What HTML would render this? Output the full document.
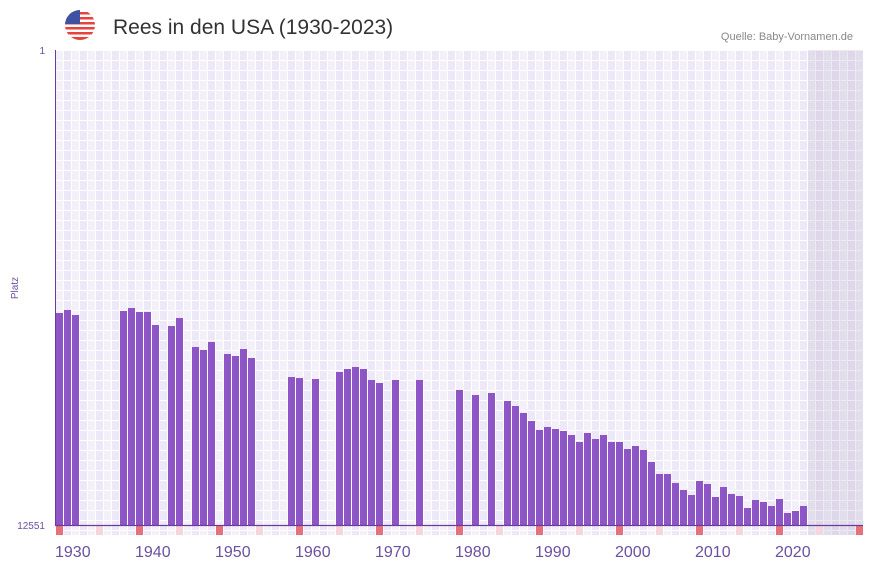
<!DOCTYPE html>
<html><head><meta charset="utf-8"><style>
html,body{margin:0;padding:0;background:#fff;width:873px;height:567px;overflow:hidden}
svg text{font-family:"Liberation Sans",sans-serif}
</style></head><body>
<svg width="873" height="567" viewBox="0 0 873 567" xmlns="http://www.w3.org/2000/svg">
<defs>
<pattern id="g" x="55" y="50" width="16" height="10" patternUnits="userSpaceOnUse">
<rect width="16" height="10" fill="#fff"/>
<rect x="1" y="1" width="7" height="9" fill="#f3f0fa"/>
<rect x="9" y="1" width="7" height="9" fill="#ede8f7"/>
</pattern>
<clipPath id="fc"><circle cx="80" cy="25" r="15"/></clipPath>
</defs>
<g clip-path="url(#fc)">
<rect x="65" y="10" width="30" height="30" fill="#fff"/>
<rect x="65" y="12" width="30" height="2.5" fill="#e8423f"/>
<rect x="65" y="17" width="30" height="2.5" fill="#e8423f"/>
<rect x="65" y="22" width="30" height="2.5" fill="#e8423f"/>
<rect x="65" y="27" width="30" height="2.5" fill="#e8423f"/>
<rect x="65" y="32" width="30" height="2.5" fill="#e8423f"/>
<rect x="65" y="37" width="30" height="3" fill="#e8423f"/>
<rect x="65" y="10" width="15" height="14" fill="#3f51a3"/>
</g>
<text x="113" y="34" font-size="21" fill="#333">Rees in den USA (1930-2023)</text>
<text x="853" y="40" font-size="11" fill="#888" text-anchor="end">Quelle: Baby-Vornamen.de</text>
<rect x="55" y="50" width="808" height="485" fill="url(#g)"/>
<rect x="808" y="50" width="55" height="485" fill="rgba(150,140,170,0.18)"/>
<g fill="#8e55c6" id="bars"></g>
<g id="marks"></g>
<line x1="55.5" y1="50" x2="55.5" y2="525" stroke="#6a3d9a" stroke-width="1"/>
<line x1="55" y1="525.5" x2="863" y2="525.5" stroke="#6a3d9a" stroke-width="1.2"/>
<text x="45" y="54" font-size="10" fill="#6b4fa0" text-anchor="end">1</text>
<text x="45" y="529" font-size="10" fill="#6b4fa0" text-anchor="end">12551</text>
<text x="18" y="288" font-size="10" fill="#6b4fa0" text-anchor="middle" transform="rotate(-90 18 288)">Platz</text>
<g font-size="16" fill="#6b4fa0" id="xl"></g>
</svg>
<script>
var d={1930:313,1931:310,1932:315,1938:311,1939:308,1940:312,1941:312,1942:325,1944:326,1945:318,1947:347,1948:350,1949:342,1951:354,1952:356,1953:349,1954:358,1959:377,1960:378,1962:379,1965:372,1966:369,1967:367,1968:369,1969:380,1970:383,1972:380,1975:380,1980:390,1982:395,1984:393,1986:401,1987:406,1988:413,1989:421,1990:430,1991:427,1992:429,1993:431,1994:435,1995:442,1996:433,1997:439,1998:435,1999:442,2000:442,2001:449,2002:446,2003:450,2004:462,2005:474,2006:474,2007:483,2008:490,2009:495,2010:481,2011:484,2012:497,2013:487,2014:494,2015:496,2016:508,2017:500,2018:502,2019:506,2020:499,2021:513,2022:511,2023:506};
var ns="http://www.w3.org/2000/svg",b=document.getElementById('bars'),m=document.getElementById('marks'),xl=document.getElementById('xl');
for(var y in d){var r=document.createElementNS(ns,'rect');var x=56+8*(y-1930);r.setAttribute('x',x);r.setAttribute('y',d[y]);r.setAttribute('width',7);r.setAttribute('height',525-d[y]);b.appendChild(r);}
for(var y=1930;y<=2030;y+=5){var r=document.createElementNS(ns,'rect');r.setAttribute('x',56+8*(y-1930));r.setAttribute('y',526);r.setAttribute('width',7);r.setAttribute('height',9);r.setAttribute('fill',y%10==0?'#e8707a':'#f5d6de');m.appendChild(r);}
for(var y=1930;y<=2020;y+=10){var t=document.createElementNS(ns,'text');t.setAttribute('x',55+8*(y-1930));t.setAttribute('y',557);t.textContent=y;xl.appendChild(t);}
</script>
</body></html>
